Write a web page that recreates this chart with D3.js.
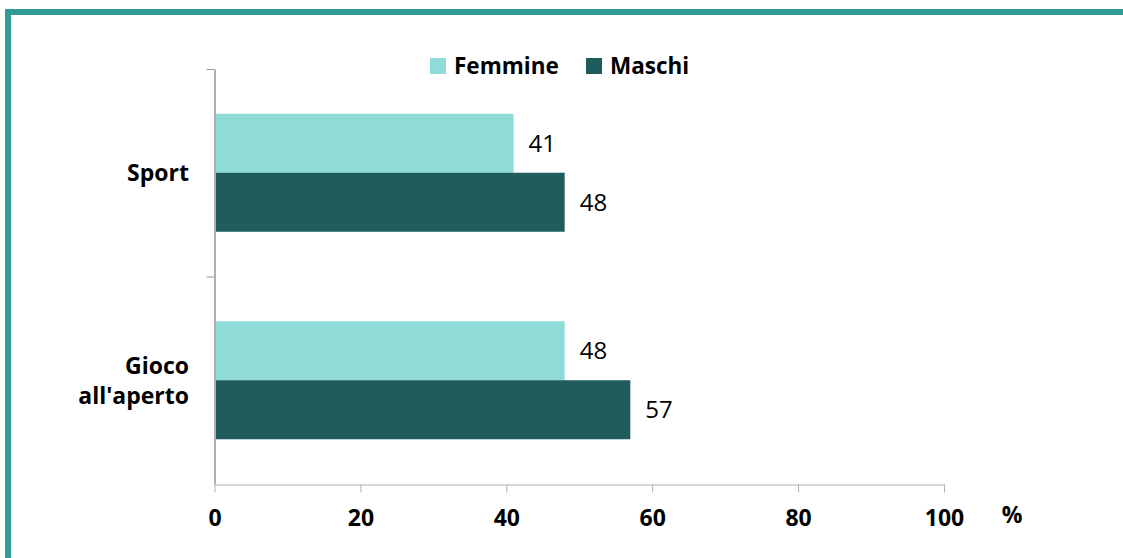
<!DOCTYPE html>
<html>
<head>
<meta charset="utf-8">
<script src="https://cdn.jsdelivr.net/npm/d3@7"></script>
<style>
  body { margin: 0; background: #fff; }
  svg { display: block; font-family: "Open Sans", "Noto Sans", sans-serif; }
</style>
</head>
<body>
<div id="chart"></div>
<script>
// chart data
var categories = ["Sport", "Gioco all'aperto"];
var seriesNames = ["Femmine", "Maschi"];
var femmine = [41, 48];
var maschi = [48, 57];
var xTicks = [0, 20, 40, 60, 80, 100];

var colors = ["#8fdbd8", "#1f5c5b"];
var W = 1123, H = 558;
var margin = { left: 214.5, right: 179, top: 69, bottom: 74 };

var svg = d3.select("#chart").append("svg")
    .attr("width", W)
    .attr("height", H);

// frame round the chart
svg.append("rect")
    .attr("x", 8).attr("y", 12)
    .attr("width", W + 20).attr("height", H + 20)
    .attr("fill", "none")
    .attr("stroke", "#339b96")
    .attr("stroke-width", 6);

var x = d3.scaleLinear().domain([0, 100]).range([margin.left, W - margin.right]);
var y = d3.scaleBand().domain(categories).range([margin.top, H - margin.bottom]);
var inner = d3.scaleBand().domain(seriesNames).range([0, 118]);
var pad = (y.bandwidth() - 118) / 2;

var rows = categories.map(function (c, i) {
    return { cat: c, values: [femmine[i], maschi[i]] };
});

// bars
var g = svg.selectAll("g.row").data(rows).enter().append("g")
    .attr("class", "row")
    .attr("transform", function (d) { return "translate(0," + (y(d.cat) + pad) + ")"; });

g.selectAll("rect").data(function (d) {
    return d.values.map(function (v, j) { return { v: v, s: seriesNames[j], j: j }; });
}).enter().append("rect")
    .attr("x", x(0))
    .attr("y", function (d) { return inner(d.s); })
    .attr("width", function (d) { return x(d.v) - x(0); })
    .attr("height", inner.bandwidth())
    .attr("fill", function (d) { return colors[d.j]; });

g.selectAll("text").data(function (d) {
    return d.values.map(function (v, j) { return { v: v, s: seriesNames[j] }; });
}).enter().append("text")
    .attr("x", function (d) { return x(d.v) + 15; })
    .attr("y", function (d) { return inner(d.s) + inner.bandwidth() / 2; })
    .attr("dy", "0.36em")
    .attr("font-size", 24)
    .attr("fill", "#000")
    .text(function (d) { return d.v; });

// x axis
var xAxis = svg.append("g")
    .attr("transform", "translate(0," + (H - margin.bottom + 0.5) + ")")
    .call(d3.axisBottom(x).tickValues(xTicks).tickSize(8).tickSizeOuter(0).tickPadding(17));
xAxis.select(".domain").attr("stroke", "#b0b0b0");
xAxis.selectAll(".tick line").attr("stroke", "#b0b0b0");
xAxis.selectAll(".tick text")
    .attr("font-size", 23).attr("font-weight", "bold").attr("fill", "#000")
    .attr("font-family", "'Open Sans', sans-serif");

svg.append("text")
    .attr("x", 1012).attr("y", 523)
    .attr("text-anchor", "middle")
    .attr("font-size", 23).attr("font-weight", "bold")
    .text("%");

// y axis
var yAxis = svg.append("g")
    .attr("transform", "translate(" + (margin.left) + ",0)")
    .call(d3.axisLeft(y).tickSize(0).tickFormat(""));
yAxis.select(".domain").attr("stroke", "#b0b0b0").attr("stroke-width", 2);
yAxis.selectAll(".tick").remove();

var bounds = y.domain().map(function (c) { return y(c); }).concat([y.range()[1]]);
svg.selectAll("line.ytick").data(bounds.slice(0, 2)).enter().append("line")
    .attr("class", "ytick")
    .attr("x1", margin.left - 8).attr("x2", margin.left)
    .attr("y1", function (d) { return d + 0.5; })
    .attr("y2", function (d) { return d + 0.5; })
    .attr("stroke", "#999");

// category labels
svg.selectAll("text.cat").data(categories).enter().append("text")
    .attr("class", "cat")
    .attr("text-anchor", "end")
    .attr("font-size", 23).attr("font-weight", "bold")
    .each(function (c) {
        var words = c.split(" ");
        var t = d3.select(this);
        var cy = y(c) + y.bandwidth() / 2;
        var lh = 30;
        words.forEach(function (w, i) {
            t.append("tspan")
                .attr("x", 189)
                .attr("y", cy + (i - (words.length - 1) / 2) * lh)
                .attr("dy", "0.36em")
                .text(w);
        });
    });

// legend
var legX = [430, 586];
var leg = svg.selectAll("g.leg").data(seriesNames).enter().append("g")
    .attr("class", "leg")
    .attr("transform", function (d, i) { return "translate(" + legX[i] + ",58)"; });
leg.append("rect").attr("width", 16).attr("height", 16)
    .attr("fill", function (d, i) { return colors[i]; });
leg.append("text")
    .attr("x", 24).attr("y", 8).attr("dy", "0.36em")
    .attr("font-size", 22.5).attr("font-weight", "bold")
    .text(function (d) { return d; });
</script>
</body>
</html>
